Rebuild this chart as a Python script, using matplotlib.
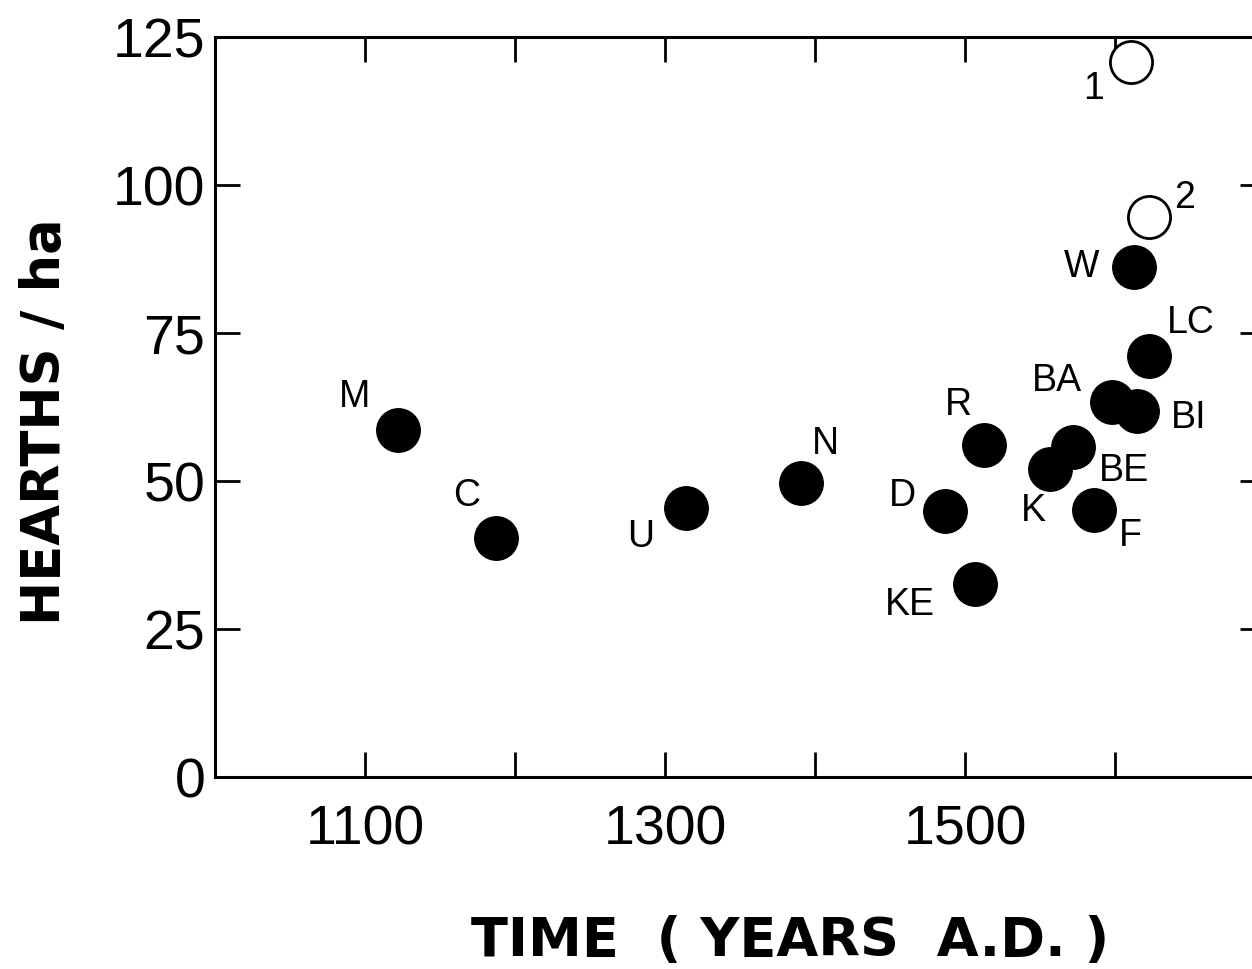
import matplotlib.pyplot as plt

# settlement sites: hearths per hectare against date of occupation
site_names = ['M', 'C', 'U', 'N', 'D', 'KE', 'R', 'K', 'BE', 'F', 'BA', 'BI', 'LC', 'W']
site_years = [1122, 1187, 1314, 1391, 1487, 1507, 1513, 1557, 1572, 1586, 1598, 1615, 1623, 1613]
site_density = [58.6, 40.4, 45.4, 49.7, 44.9, 32.6, 56.0, 52.0, 55.7, 45.1, 63.3, 61.8, 71.1, 86.1]

# historical estimates, drawn as open circles
est_names = ['1', '2']
est_years = [1611, 1623]
est_density = [120.7, 94.6]

x_ticks = [1100, 1200, 1300, 1400, 1500, 1600]
x_ticklabels = ['1100', '', '1300', '', '1500', '']
y_ticks = [0, 25, 50, 75, 100, 125]

# label offsets in points (dx, dy) from each marker centre
label_offsets = {
    'M': (-31, 24), 'C': (-21, 30), 'U': (-33, -21), 'N': (17, 28),
    'D': (-31, 11), 'KE': (-47, -15), 'R': (-19, 29), 'K': (-12, -30),
    'BE': (37, -17), 'F': (26, -19), 'BA': (-40, 15), 'BI': (37, -5),
    'LC': (30, 24), 'W': (-38, 0), '1': (-27, -19), '2': (25, 14),
}

plt.rcParams['font.family'] = ['Liberation Sans', 'DejaVu Sans']

fig = plt.figure(figsize=(12.52, 9.69), dpi=100)
ax = fig.add_axes([215 / 1252, 1 - 777 / 969, 1050 / 1252, 740 / 969])

ax.scatter(site_years, site_density, s=980, c='black', edgecolors='black', zorder=3)
ax.scatter(est_years, est_density, s=920, facecolors='white', edgecolors='black',
           linewidths=2, zorder=3)

for name, x, y in zip(site_names + est_names, site_years + est_years, site_density + est_density):
    dx, dy = label_offsets[name]
    ax.annotate(name, (x, y), xytext=(dx, dy), textcoords='offset points',
                ha='center', va='center', fontsize=27)

ax.set_xlim(1000, 1700)
ax.set_ylim(0, 125)
ax.set_xticks(x_ticks)
ax.set_xticklabels(x_ticklabels)
ax.set_yticks(y_ticks)
ax.tick_params(direction='in', length=18, width=2, top=True, right=True, labelsize=40)
ax.tick_params(axis='x', pad=20)
ax.tick_params(axis='y', pad=7)
for spine in ax.spines.values():
    spine.set_linewidth(2.2)

fig.text(45 / 1252, 1 - 422 / 969, 'HEARTHS / ha', rotation=90, ha='center', va='center',
         fontsize=38, fontweight='bold', family='DejaVu Sans')
fig.text(790 / 1252, 1 - 956 / 969, 'TIME  ( YEARS  A.D. )', ha='center', va='baseline',
         fontsize=39, fontweight='bold', family='DejaVu Sans')

fig.savefig('out.png', dpi=100)
